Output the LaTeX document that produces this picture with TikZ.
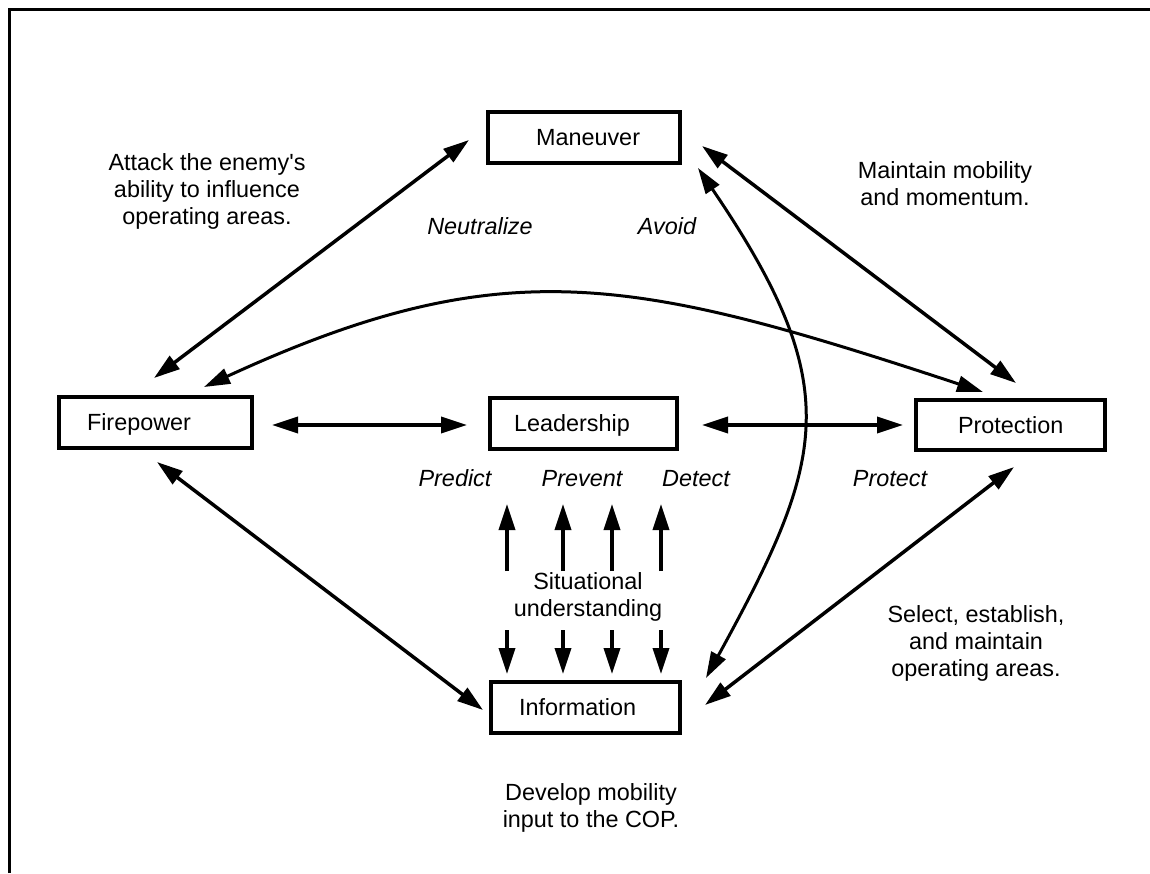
\documentclass[tikz,border=0pt]{standalone}
\usepackage{fontspec}
\setmainfont{Liberation Sans}
\usetikzlibrary{arrows.meta,calc}
\begin{document}
\begin{tikzpicture}[x=1pt,y=-1pt,
  box/.style={draw, line width=4pt, inner sep=0pt, outer sep=0pt, minimum height=51pt,
    text height=16.8pt, text depth=0pt, font=\fontsize{23.4}{27}\selectfont},
  lbl/.style={inner sep=0pt, align=center, font=\fontsize{23.4}{27}\selectfont},
  ilbl/.style={inner sep=0pt, align=center, font=\fontsize{23.4}{27}\selectfont\itshape},
  arr/.style={line width=3.5pt, {Triangle[length=26pt,width=16pt]}-{Triangle[length=26pt,width=16pt]}},
  uarr/.style={line width=3.5pt, -{Triangle[length=26pt,width=16pt]}},
  crv/.style={line width=3pt, {Triangle[length=26pt,width=16pt]}-{Triangle[length=26pt,width=16pt]}}
]
\useasboundingbox (0,0) rectangle (1150,873);
% frame
\draw[line width=3pt] (9,873) -- (9,9.5) -- (1150,9.5);

% boxes
\node[box, minimum width=192pt] (man) at (584,137.5) {\makebox[192pt][l]{\hspace*{48pt}Maneuver}};
\node[box, minimum width=193pt] (fire) at (155.5,422.5) {\makebox[193pt][l]{\hspace*{28pt}Firepower}};
\node[box, minimum width=187pt] (lead) at (583.5,423.5) {\makebox[187pt][l]{\hspace*{24pt}Leadership}};
\node[box, minimum width=189pt, minimum height=50pt] (prot) at (1010.5,425) {\makebox[189pt][l]{\hspace*{42pt}Protection}};
\node[box, minimum width=189pt] (info) at (585.5,707.5) {\makebox[189pt][l]{\hspace*{28pt}Information}};

% labels
\node[lbl] (attack) at (207,192) {\strut Attack the enemy\textquotesingle s\\\strut ability to influence\\\strut operating areas.};
\node[lbl] (maint) at (945,186.5) {\strut Maintain mobility\\\strut and momentum.};
\node[lbl] (select) at (976,644) {\strut Select, establish,\\\strut and maintain\\\strut operating areas.};
\node[lbl] (devel) at (591,808.5) {\strut Develop mobility\\\strut input to the COP.};
\node[lbl] (situ) at (588,597.5) {\strut Situational\\\strut understanding};
\node[ilbl] (neut) at (480,229) {\strut Neutralize};
\node[ilbl] (avoid) at (667,229) {\strut Avoid};
\node[ilbl] (pred) at (455,481) {\strut Predict};
\node[ilbl] (prev) at (582,481) {\strut Prevent};
\node[ilbl] (dete) at (696,481) {\strut Detect};
\node[ilbl] (prote) at (890,481) {\strut Protect};

% connectors
\draw[arr] ([shift={(-19,2.5)}]man.west) -- ([shift={(-1.5,-19)}]fire.north);
\draw[arr] ([shift={(22,8.5)}]man.east) -- ([shift={(5.5,-17)}]prot.north);
\draw[crv] ([shift={(18,5)}]man.south east) .. controls (847,387) and (826,459) .. ([shift={(26,-4)}]info.north east);
\draw[crv] ([shift={(48.5,-10)}]fire.north) .. controls (504,249) and (633,276.5) .. ([shift={(-27.5,-8)}]prot.north);
\draw[arr] ([shift={(20,2.5)}]fire.east) -- ([shift={(-23,1.5)}]lead.west);
\draw[arr] ([shift={(25,1.5)}]lead.east) -- ([shift={(-13,0)}]prot.west);
\draw[arr] ([shift={(1.5,14)}]fire.south) -- ([shift={(-8,2.5)}]info.west);
\draw[arr] ([shift={(25,-2.5)}]info.east) -- ([shift={(3.5,17)}]prot.south);

% situational understanding arrows
\foreach \dx in {-78.5,-22.5,26.5,75.5}{
  \draw[uarr] ([shift={(\dx,-111)}]info.north) -- ([shift={(\dx,-178)}]info.north);
  \draw[uarr] ([shift={(\dx,-52)}]info.north) -- ([shift={(\dx,-8)}]info.north);
}
\end{tikzpicture}
\end{document}
